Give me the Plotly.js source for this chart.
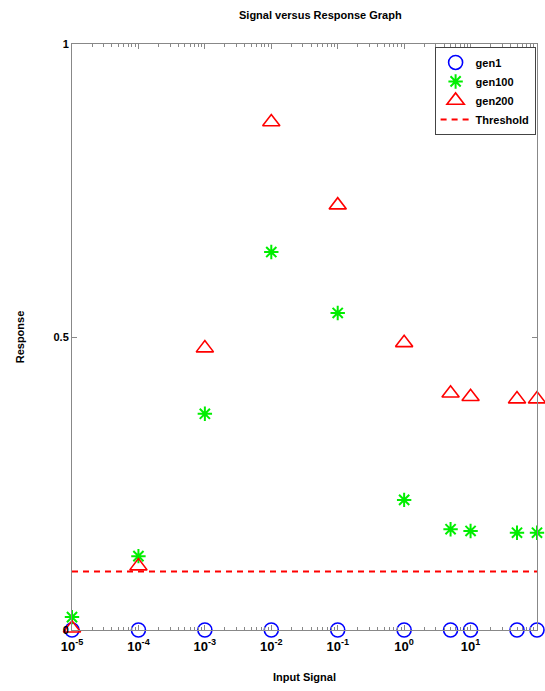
<!DOCTYPE html>
<html>
<head>
<meta charset="utf-8">
<script src="https://cdn.plot.ly/plotly-3.0.1.min.js"></script>
<style>html,body{margin:0;padding:0;background:#fff;}#chart{width:545px;height:691px;}</style>
</head>
<body>
<div id="chart"></div>
<script>
const inputSignal = [1e-5, 1e-4, 1e-3, 1e-2, 1e-1, 1, 5, 10, 50, 100];
const gen1 = [0, 0, 0, 0, 0, 0, 0, 0, 0, 0];
const gen100 = [0.022, 0.126, 0.369, 0.645, 0.541, 0.222, 0.172, 0.169, 0.166, 0.166];
const gen200 = [0.003, 0.109, 0.481, 0.867, 0.725, 0.490, 0.404, 0.398, 0.394, 0.394];
const thresholdX = [1e-5, 100];
const thresholdY = [0.1, 0.1];
const xTickVals = [1e-5, 1e-4, 1e-3, 1e-2, 1e-1, 1, 10, 100];
const xTickText = ['10<sup>-5</sup>', '10<sup>-4</sup>', '10<sup>-3</sup>', '10<sup>-2</sup>',
                   '10<sup>-1</sup>', '10<sup>0</sup>', '10<sup>1</sup>', '10<sup>2</sup>'];
const yTickVals = [0, 0.5, 1];
const yTickText = ['0', '0.5', '1'];
const minorTicks = [];
for (let e = -5; e < 2; e++) { for (let m = 2; m <= 9; m++) minorTicks.push(m * Math.pow(10, e)); }

const FONT = 'Liberation Sans, Arial, Helvetica, sans-serif';
const traces = [
  {x: inputSignal, y: gen1, name: 'gen1', mode: 'markers', cliponaxis: false,
   marker: {symbol: 'circle-open', size: 14, color: '#0000ff', line: {width: 1.6, color: '#0000ff'}}},
  {x: inputSignal, y: gen100, name: 'gen100', mode: 'markers', cliponaxis: false,
   marker: {symbol: 'asterisk-open', size: 12, color: '#00ee00', line: {width: 2, color: '#22ee22'}}},
  {x: inputSignal, y: gen200, name: 'gen200', mode: 'markers', cliponaxis: false,
   marker: {symbol: 'triangle-up-open', size: 15, color: '#ff0000', line: {width: 1.6, color: '#ff0000'}}},
  {x: thresholdX, y: thresholdY, name: 'Threshold', mode: 'lines',
   line: {color: '#ff0000', width: 2, dash: '6px,5px'}}
];

const layout = {
  width: 545, height: 691,
  margin: {l: 72, r: 8, t: 44, b: 61},
  paper_bgcolor: '#ffffff', plot_bgcolor: '#ffffff',
  font: {family: FONT, size: 11, color: '#000', weight: 'bold'},
  title: {text: 'Signal versus Response Graph', font: {family: FONT, size: 11, weight: 'bold'},
          x: 0.534, xanchor: 'center', y: 0.978, yanchor: 'middle', xref: 'paper'},
  showlegend: true,
  legend: {x: 0.997, xanchor: 'right', y: 0.995, yanchor: 'top', bgcolor: '#ffffff',
           bordercolor: '#444', borderwidth: 1, font: {family: FONT, size: 11, weight: 'bold'},
           tracegroupgap: 0, itemwidth: 30},
  xaxis: {type: 'log', range: [-5, 2], tickvals: xTickVals, ticktext: xTickText,
          showgrid: false, zeroline: false, showline: true, linecolor: '#888', linewidth: 1,
          mirror: 'ticks', ticks: 'inside', ticklen: 5, tickcolor: '#888', ticklabelstandoff: 4,
          tickfont: {family: FONT, size: 13, weight: 'bold'},
          title: {text: 'Input Signal', font: {family: FONT, size: 11, weight: 'bold'}, standoff: 20}},
  xaxis2: {type: 'log', range: [-5, 2], overlaying: 'x', tickvals: minorTicks, showticklabels: false,
           showgrid: false, zeroline: false, showline: false, ticks: 'inside', ticklen: 3,
           tickcolor: '#888', mirror: 'ticks', anchor: 'y'},
  yaxis: {range: [0, 1], tickvals: yTickVals, ticktext: yTickText,
          showgrid: false, zeroline: false, showline: true, linecolor: '#888', linewidth: 1,
          mirror: 'ticks', ticks: 'inside', ticklen: 5, tickcolor: '#888',
          tickfont: {family: FONT, size: 11, weight: 'bold'},
          title: {text: 'Response', font: {family: FONT, size: 11, weight: 'bold'}, standoff: 26}}
};
// invisible trace so the minor-tick axis is drawn
traces.push({x: [1e-5], y: [0], xaxis: 'x2', mode: 'markers', marker: {opacity: 0}, showlegend: false, hoverinfo: 'skip'});

Plotly.newPlot('chart', traces, layout, {displayModeBar: false, staticPlot: true});
</script>
</body>
</html>
